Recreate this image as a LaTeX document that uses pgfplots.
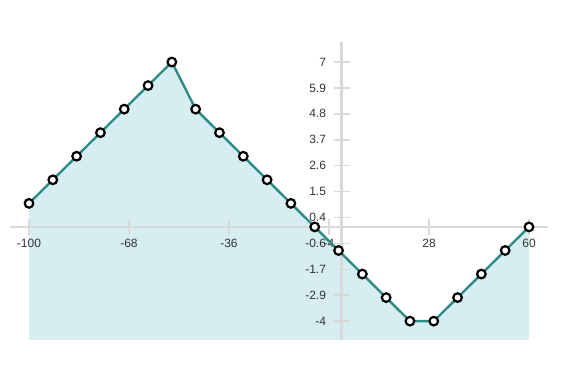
\documentclass[border=0pt]{standalone}
\usepackage{pgfplots}
\pgfplotsset{compat=1.18}
\usepackage{fontspec}
\setmainfont{Liberation Sans}
\definecolor{fillc}{RGB}{214,237,242}
\definecolor{linec}{RGB}{46,139,135}
\definecolor{axc}{RGB}{217,217,217}
\begin{document}
\begin{tikzpicture}[x=1bp,y=1bp]
\begin{axis}[
 set layers,
 at={(10bp,25bp)}, anchor=south west,
 scale only axis, width=538bp, height=298bp,
 xmin=-106.08, xmax=66.08, ymin=-4.8, ymax=7.85,
 axis lines=middle,
 axis line style={draw=axc, line width=2.5bp, -},
 xtick={-100,-68,-36,-4,28,60},
 xticklabels={-100,-68,-36,-4,28,60},
 ytick={7,5.9,4.8,3.7,2.6,1.5,0.4,-0.7,-1.8,-2.9,-4},
 yticklabels={7,5.9,4.8,3.7,2.6,1.5,0.4,-0.6,-1.7,-2.9,-4},
 tick align=center, major tick length=16bp,
 tick style={draw=axc, line width=1.5bp},
 ticklabel style={font=\fontsize{12bp}{14bp}\selectfont, text=black!80},
 /pgf/number format/assume math mode=true,
 xticklabel style={anchor=north, yshift=-1bp},
 yticklabel style={anchor=east, xshift=-4bp},
 clip=false,
]
\addplot[on layer=axis background, fill=fillc, draw=none] coordinates {
(-100,-4.8) (-100,1) (-92.38,2) (-84.76,3) (-77.14,4) (-69.52,5) (-61.90,6) (-54.29,7)
(-46.67,5) (-39.05,4) (-31.43,3) (-23.81,2) (-16.19,1) (-8.57,0) (-0.95,-1)
(6.67,-2) (14.29,-3) (21.90,-4) (29.52,-4) (37.14,-3) (44.76,-2) (52.38,-1) (60,0) (60,-4.8)
} -- cycle;
\addplot[color=linec, line width=2.4bp, mark=*, mark size=4.3bp,
 mark options={fill=white, draw=black, line width=2.2bp}] coordinates {
(-100,1) (-92.38,2) (-84.76,3) (-77.14,4) (-69.52,5) (-61.90,6) (-54.29,7)
(-46.67,5) (-39.05,4) (-31.43,3) (-23.81,2) (-16.19,1) (-8.57,0) (-0.95,-1)
(6.67,-2) (14.29,-3) (21.90,-4) (29.52,-4) (37.14,-3) (44.76,-2) (52.38,-1) (60,0)
};
\end{axis}
\pgfresetboundingbox
\path (0,0) rectangle (562bp,365bp);
\end{tikzpicture}
\end{document}
